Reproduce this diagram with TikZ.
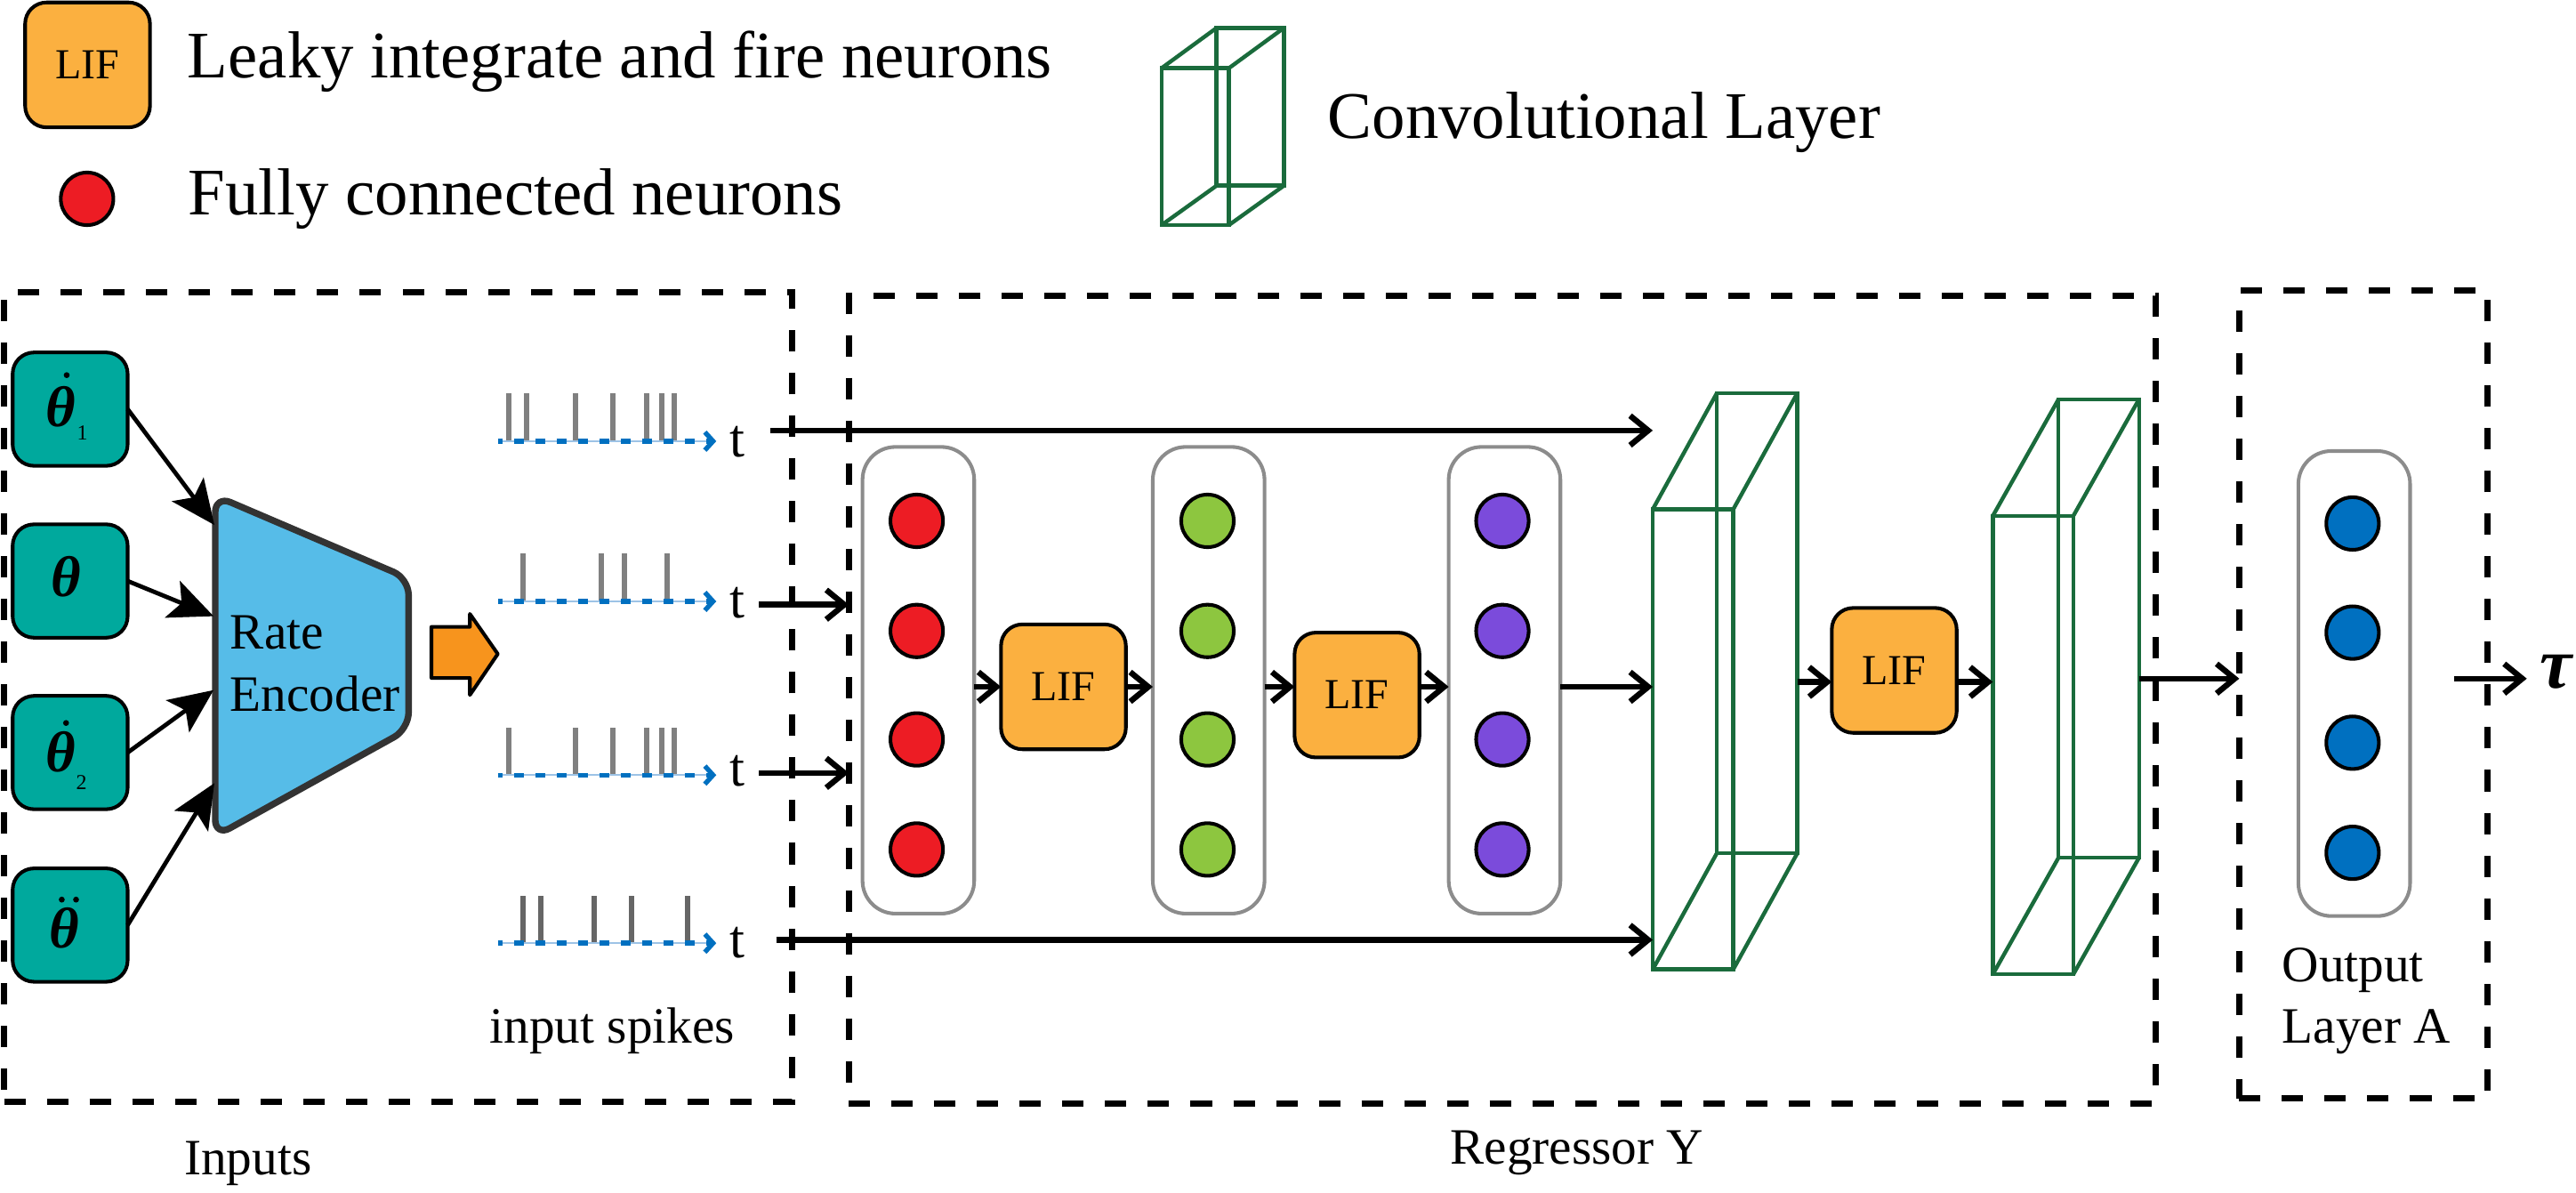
\documentclass[tikz,border=0pt]{standalone}
\usepackage{fontspec}
\setmainfont{Liberation Serif}
\usetikzlibrary{arrows.meta}
\definecolor{lifor}{HTML}{FBB040}
\definecolor{tealb}{HTML}{00A99D}
\definecolor{encb}{HTML}{56BCE8}
\definecolor{encd}{HTML}{333333}
\definecolor{nred}{HTML}{ED1C24}
\definecolor{ngreen}{HTML}{8DC63F}
\definecolor{npurple}{HTML}{7B4BDB}
\definecolor{nblue}{HTML}{0070C0}
\definecolor{cgreen}{HTML}{1A6B3C}
\definecolor{pgray}{HTML}{8C8C8C}
\definecolor{aorange}{HTML}{F7941D}
\definecolor{sgray}{HTML}{808080}
\definecolor{sdark}{HTML}{666666}
\definecolor{sblue}{HTML}{0070C0}
\definecolor{slight}{HTML}{9DC3E6}
\begin{document}
\begin{tikzpicture}[x=1pt,y=-1pt,
 big/.style={font=\fontsize{40.5}{48}\selectfont, inner sep=0pt, anchor=base west},
 mid/.style={font=\fontsize{31}{37}\selectfont, inner sep=0pt, anchor=base west},
 tlab/.style={font=\fontsize{33}{33}\selectfont, inner sep=0pt, anchor=base west},
 lifbox/.style={draw, line width=2.2pt, fill=lifor, rounded corners=13pt, minimum width=76pt, minimum height=76pt, inner sep=0pt, outer sep=0pt, font=\fontsize{26}{26}\selectfont},
 thbox/.style={draw, line width=2.2pt, fill=tealb, rounded corners=13pt, minimum width=70pt, minimum height=69pt, inner sep=0pt, outer sep=0pt},
 neuron/.style={circle, draw, line width=2.2pt, minimum size=32pt, inner sep=0pt},
 panel/.style={draw=pgray, line width=2.2pt, rounded corners=20pt, minimum width=68pt, minimum height=284pt, inner sep=0pt, outer sep=0pt},
 dbox/.style={draw, line width=3.8pt, dash pattern=on 13pt off 13pt, inner sep=0pt, outer sep=0pt},
 face/.style={draw=cgreen, line width=2.4pt, inner sep=0pt, outer sep=0pt},
 cedge/.style={draw=cgreen, line width=2.4pt},
 arr/.style={line width=3.5pt, -{Straight Barb[length=11pt,width=18pt]}},
 earr/.style={line width=2.6pt, -{Stealth[length=27pt,width=24pt,inset=6pt]}},
 thfont/.style={font=\fontsize{35}{35}\selectfont\bfseries\itshape, inner sep=0pt},
 subfont/.style={font=\fontsize{13}{13}\selectfont, inner sep=0pt},
]
\useasboundingbox (0,0) rectangle (1568,726);

% ---------------- legend
\node[lifbox] (lgLIF) at (53.3,39.5) {LIF};
\node[big] (lgLIFt) at (114,47.3) {Leaky integrate and fire neurons};
\node[neuron, fill=nred] (lgN) at (53,121) {};
\node[big] (lgNt) at (114.5,130.8) {Fully connected neurons};
\node[face, minimum width=41pt, minimum height=96pt] (lgB) at (761,65) {};
\node[face, minimum width=41pt, minimum height=95.5pt] (lgF) at (727.5,89.25) {};
\draw[cedge] (lgF.north west) -- (lgB.north west);
\draw[cedge] (lgF.north east) -- (lgB.north east);
\draw[cedge] (lgF.south west) -- (lgB.south west);
\draw[cedge] (lgF.south east) -- (lgB.south east);
\node[big] (lgCt) at (808,84) {Convolutional Layer};

% ---------------- dashed boxes
\node[dbox, minimum width=479.5pt, minimum height=492.5pt] (inbox) at (242.25,424.25) {};
\node[dbox, minimum width=795.3pt, minimum height=491.5pt] (regbox) at (914.35,425.75) {};
\node[dbox, minimum width=151pt, minimum height=491.8pt] (outbox) at (1438.5,422.7) {};

% ---------------- inputs
\node[thbox] (th1) at (42.7,249) {};
\node[thbox] (th2) at (42.7,353.6) {};
\node[thbox] (th3) at (42.7,458) {};
\node[thbox] (th4) at (42.7,563) {};
\node[thfont] (q1) at (37,247.3) {θ};
\fill (40.6,228.3) circle (1.8pt);
\node[subfont] (s1lab) at (50.2,263.2) {1};
\node[thfont] (q2) at (40.4,351) {θ};
\node[thfont] (q3) at (37,457.6) {θ};
\fill (40.2,440) circle (1.8pt);
\node[subfont] (s2lab) at (49.6,476.3) {2};
\node[thfont] (q4) at (39,565) {θ};
\fill (37.6,547.5) circle (1.8pt);
\fill (46.3,547.5) circle (1.8pt);

% encoder
\draw[fill=encb, draw=encd, line width=4pt, rounded corners=10pt, line join=round]
  (131,301.7) -- (248.7,352) -- (248.7,443.7) -- (131,509) -- cycle;
\node[mid] (enc1) at (140,395) {Rate};
\node[mid] (enc2) at (140,433) {Encoder};
\coordinate (e1) at (130.5,319.5);
\coordinate (e2) at (130,375);
\coordinate (e3) at (130,420);
\coordinate (e4) at (130.5,476.6);
\draw[earr] (th1.east) -- (e1);
\draw[earr] (th2.east) -- (e2);
\draw[earr] (th3.east) -- (e3);
\draw[earr] (th4.east) -- (e4);

% orange block arrow
\draw[fill=aorange, line width=2.2pt, line join=round]
  (262.6,381.5) -- (286,381.5) -- (286,373.6) -- (303,398) -- (286,423) -- (286,412.6) -- (262.6,412.6) -- cycle;

% spikes
\foreach \y/\xs/\c in {268.5/{309.5,320.4,350.1,373,393.8,402.8,410.6}/sgray,
                       366/{318.2,366,379.9,406}/sgray,
                       471.7/{309.5,350.1,373,393.8,402.8,410.6}/sgray,
                       574/{318.5,329.3,361.8,384.4,418.7}/sdark}{
  \foreach \x in \xs { \fill[\c] (\x-1.65,\y) rectangle (\x+1.65,\y-29); }
  \draw[slight, line width=1pt] (303,\y) -- (430,\y);
  \draw[sblue, line width=2.9pt, dash pattern=on 6.3pt off 6.7pt, dash phase=3.3pt,
        -{Straight Barb[length=5pt,width=11pt]}] (303,\y) -- (436,\y);
}
\node[tlab] (tl1) at (444,278.2) {t};
\node[tlab] (tl2) at (444,376) {t};
\node[tlab] (tl3) at (444,478.6) {t};
\node[tlab] (tl4) at (444,582.6) {t};
\node[mid] (isp) at (298,635) {input spikes};

% ---------------- regressor
\node[panel] (P1) at (559,414) {};
\node[panel] (P2) at (735.7,414) {};
\node[panel] (P3) at (915.8,414) {};
\foreach \yy [count=\i] in {317,384,450,517}{
  \node[neuron, fill=nred] (r\i) at (558,\yy) {};
  \node[neuron, fill=ngreen] (g\i) at (735,\yy) {};
  \node[neuron, fill=npurple] (p\i) at (914.5,\yy) {};
}
\node[lifbox] (L1) at (647.3,418) {LIF};
\node[lifbox] (L2) at (826,423) {LIF};
\node[lifbox] (L3) at (1153,408) {LIF};

% cuboids
\node[face, minimum width=49pt, minimum height=280pt] (c1f) at (1030.5,450) {};
\node[face, minimum width=49pt, minimum height=280pt] (c1b) at (1069.5,379.3) {};
\draw[cedge] (c1f.north west) -- (c1b.north west);
\draw[cedge] (c1f.north east) -- (c1b.north east);
\draw[cedge] (c1f.south west) -- (c1b.south west);
\draw[cedge] (c1f.south east) -- (c1b.south east);
\node[face, minimum width=49pt, minimum height=279pt] (c2f) at (1237.5,453.5) {};
\node[face, minimum width=49pt, minimum height=279pt] (c2b) at (1277.5,382.5) {};
\draw[cedge] (c2f.north west) -- (c2b.north west);
\draw[cedge] (c2f.north east) -- (c2b.north east);
\draw[cedge] (c2f.south west) -- (c2b.south west);
\draw[cedge] (c2f.south east) -- (c2b.south east);

% arrows from t
\coordinate (s1) at (469,262);
\coordinate (s2) at (462,368);
\coordinate (s3) at (462,470.4);
\coordinate (s4) at (472.5,572);
\draw[arr] (s1) -- (s1 -| c1f.west);
\draw[arr] (s2) -- (s2 -| regbox.west);
\draw[arr] (s3) -- (s3 -| regbox.west);
\draw[arr] (s4) -- (s4 -| c1f.west);

\coordinate (m) at (0,418);
\draw[arr] (P1.east |- m) -- (L1.west |- m);
\draw[arr] (L1.east |- m) -- (P2.west |- m);
\draw[arr] (P2.east |- m) -- (L2.west |- m);
\draw[arr] (L2.east |- m) -- (P3.west |- m);
\draw[arr] (P3.east |- m) -- (c1f.west |- m);
\coordinate (m2) at (0,415);
\draw[arr] (c1b.east |- m2) -- (L3.west |- m2);
\draw[arr] (L3.east |- m2) -- (c2f.west |- m2);
\coordinate (m3) at (0,413);
\draw[arr] (c2b.east |- m3) -- (outbox.west |- m3);

% ---------------- output
\node[panel, minimum height=283pt] (PO) at (1433,416) {};
\foreach \yy [count=\i] in {318.6,385,452,519}{
  \node[neuron, fill=nblue] (b\i) at (1432,\yy) {};
}
\node[mid] (ol1) at (1389,597.6) {Output};
\node[mid] (ol2) at (1389,634.6) {Layer A};
\node[font=\fontsize{44}{44}\selectfont\bfseries\itshape, inner sep=0pt] (tau) at (1556,409) {τ};
\coordinate (ts) at (1494,413);
\draw[arr] (ts) -- ([xshift=-8pt]tau.west |- ts);

% ---------------- bottom labels
\node[mid] (lbIn) at (112,714.7) {Inputs};
\node[mid] (lbReg) at (882.6,708.3) {Regressor Y};
\end{tikzpicture}
\end{document}
